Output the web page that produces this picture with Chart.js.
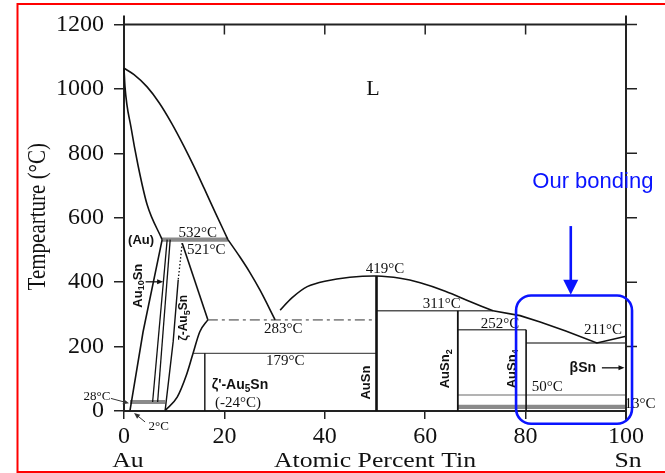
<!DOCTYPE html>
<html><head><meta charset="utf-8">
<script src="https://cdn.jsdelivr.net/npm/chart.js@4.4.1/dist/chart.umd.min.js"></script>
<style>html,body{margin:0;padding:0;background:#fff}canvas{display:block}</style>
</head><body>
<canvas id="c" width="665" height="473"></canvas>
<script>
// Au–Sn binary phase diagram: composition in atomic % Sn, temperature in °C
const xTicks = [0, 20, 40, 60, 80, 100];
const yTicks = [0, 200, 400, 600, 800, 1000, 1200];

// phase boundaries as [at.% Sn, °C]
const liquidusAuUpper = [[0,1064],[2,1044],[4.6,1006],[7,957],[9.5,893],[12,820],[14,757],[16,690],[18.3,612],[20.7,532]];
const liquidusAuLower = [[20.7,532],[23.1,478],[25,432],[27.1,375],[30.1,283]];
const liquidusDome = [[31.1,313],[33.5,352],[36.5,386],[40,403],[45,415],[50.3,419],[55,412],[59,398],[64,372],[68.9,340],[73.5,311]];
const liquidusSn = [[73.5,311],[78.9,296],[82.9,276],[88,248],[94.2,211],[100,232]];
const solidusAu = [[0,1064],[0.2,1006],[1.4,880],[2.8,762],[4.6,641],[7.6,532]];
const solvusAu = [[7.6,532],[3.8,246],[1.2,2]];
const au10SnLow = [[8.6,532],[5.7,28]];
const au10SnHigh = [[9.2,532],[6.7,28]];
const zetaPeak = [11.6,521];
const zetaTop = [zetaPeak,[10.8,407]];
const zetaLeft = [[10.8,407],[9.8,216],[8.2,2]];
const zetaRightUpper = [zetaPeak,[16.7,283]];
const zetaRightLower = [[16.7,283],[15.1,246],[13.7,176],[12.4,110],[10.6,43],[8.2,2]];
const au5SnLine = [[16.1,179],[16.1,0]];
const auSnLine = [[50.3,419],[50.3,0]];
const auSn2Line = [[66.5,311],[66.5,0]];
const auSn4Line = [[80.1,252],[80.1,0]];
const domePeak = [50.3,419];

// horizontal invariant lines
const isoTemps = [532, 283, 179, 311, 252, 211, 50, 13, 28];
const isoFrom  = [7.6, 16.7, 13.8, 50.3, 66.5, 80.1, 66.5, 66.5, 1.2];
const isoTo    = [20.7, 50.3, 50.3, 73.5, 80.1, 100, 100, 100, 8.2];
const isoKind  = ['double','dashdot','gray','gray','gray','gray','light','double','double'];

const SERIF = "'Liberation Serif', 'Times New Roman', serif";
const SANS = "'Liberation Sans', Arial, sans-serif";
const INK = '#111';

function pts(a){ return a.map(([x,y]) => ({x, y})); }
function line(a, o){
  return Object.assign({data: pts(a), showLine: true, pointRadius: 0, fill: false, clip: false,
    borderColor: INK, borderWidth: 1.6, tension: 0}, o || {});
}
const smooth = {tension: 0.4, cubicInterpolationMode: 'monotone'};

const datasets = [
  line(liquidusAuUpper, smooth),
  line(liquidusAuLower, smooth),
  line(liquidusDome, {tension: 0.35}),
  line(liquidusSn),
  line(solidusAu, smooth),
  line(solvusAu),
  line(au10SnLow, {borderWidth: 1.3}),
  line(au10SnHigh, {borderWidth: 1.3}),
  line(zetaTop, {borderDash: [1.5, 2], borderWidth: 1.3}),
  line(zetaLeft, {borderWidth: 1.4}),
  line(zetaRightUpper),
  line(zetaRightLower, smooth),
  line(au5SnLine, {borderWidth: 1.4}),
  line(auSnLine, {borderWidth: 2.6}),
  line(auSn2Line, {borderWidth: 1.8}),
  line(auSn4Line, {borderWidth: 1.6}),
];
isoTemps.forEach((t, i) => {
  const seg = [[isoFrom[i], t], [isoTo[i], t]];
  const k = isoKind[i];
  if (k === 'double') {
    datasets.push(line(seg, {borderColor: '#8a8a8a', borderWidth: 4.2}));
    datasets.push(line(seg, {borderColor: '#ffffff', borderWidth: 1.4}));
  } else if (k === 'dashdot') {
    datasets.push(line(seg, {borderColor: '#8a8a8a', borderWidth: 1.6, borderDash: [10, 4, 3, 4]}));
  } else if (k === 'light') {
    datasets.push(line(seg, {borderColor: '#9a9a9a', borderWidth: 1.5}));
  } else {
    datasets.push(line(seg, {borderColor: '#555', borderWidth: 1.4}));
  }
});

// text helpers
function text(ctx, s, x, y, font, o){
  o = o || {};
  ctx.save();
  ctx.translate(x, y);
  if (o.sx) ctx.scale(o.sx, 1);
  if (o.rot) ctx.rotate(o.rot);
  ctx.font = font; ctx.fillStyle = o.color || INK;
  ctx.textAlign = o.align || 'center'; ctx.textBaseline = o.base || 'middle';
  ctx.fillText(s, 0, 0);
  ctx.restore();
}
function runs(ctx, parts, x, y, size, rot){
  ctx.save();
  ctx.translate(x, y); if (rot) ctx.rotate(rot);
  ctx.textBaseline = 'middle'; ctx.textAlign = 'left'; ctx.fillStyle = INK;
  const f = p => `bold ${p.sub ? Math.round(size * 0.72) : size}px ${SANS}`;
  let total = 0;
  parts.forEach(p => { ctx.font = f(p); total += ctx.measureText(p.t).width; });
  let cx = -total / 2;
  parts.forEach(p => { ctx.font = f(p); ctx.fillText(p.t, cx, p.sub ? size * 0.3 : 0); cx += ctx.measureText(p.t).width; });
  ctx.restore();
}
function arrow(ctx, x1, y1, x2, y2, color, lw, hl, hw){
  const a = Math.atan2(y2 - y1, x2 - x1);
  ctx.save();
  ctx.strokeStyle = color; ctx.fillStyle = color; ctx.lineWidth = lw;
  ctx.beginPath(); ctx.moveTo(x1, y1);
  ctx.lineTo(x2 - Math.cos(a) * hl * 0.8, y2 - Math.sin(a) * hl * 0.8); ctx.stroke();
  ctx.beginPath(); ctx.moveTo(x2, y2);
  ctx.lineTo(x2 - Math.cos(a) * hl + Math.sin(a) * hw / 2, y2 - Math.sin(a) * hl - Math.cos(a) * hw / 2);
  ctx.lineTo(x2 - Math.cos(a) * hl - Math.sin(a) * hw / 2, y2 - Math.sin(a) * hl + Math.cos(a) * hw / 2);
  ctx.closePath(); ctx.fill();
  ctx.restore();
}

// label anchors in data units
const tempLabels = [
  {v: isoTemps[0], at: [14.7, 553]},
  {v: zetaPeak[1], at: [16.4, 498]},
  {v: isoTemps[1], at: [31.7, 255]},
  {v: isoTemps[2], at: [32.1, 155]},
  {v: domePeak[1], at: [52, 440]},
  {v: isoTemps[3], at: [63.3, 331]},
  {v: isoTemps[4], at: [74.9, 270]},
  {v: isoTemps[5], at: [95.4, 252]},
  {v: isoTemps[6], at: [84.3, 73]},
  {v: isoTemps[7], at: [102.8, 21]},
  {v: isoTemps[8], at: [-5.4, 46]},
  {v: solvusAu[2][1], at: [6.9, -49]},
];

const deco = {
  id: 'deco',
  beforeDraw(chart){
    const c = chart.ctx;
    c.save();
    c.fillStyle = '#fff'; c.fillRect(0, 0, chart.width, chart.height);
    c.strokeStyle = '#ff0000'; c.lineWidth = 2;
    c.strokeRect(17.5, 4, 660, 468);
    c.restore();
  },
  afterDraw(chart){
    const c = chart.ctx, xs = chart.scales.x, ys = chart.scales.y, a = chart.chartArea;
    const X = v => xs.getPixelForValue(v), Y = v => ys.getPixelForValue(v);

    // top and right frame with inward / outward ticks
    c.save();
    c.strokeStyle = '#222'; c.lineWidth = 2;
    c.beginPath();
    c.moveTo(a.left, a.top); c.lineTo(a.right, a.top);
    c.moveTo(a.right, a.top - 9); c.lineTo(a.right, a.bottom + 10);
    c.moveTo(a.left, a.top - 9); c.lineTo(a.left, a.top);
    c.stroke();
    c.lineWidth = 1.5;
    c.beginPath();
    xTicks.slice(1, -1).forEach(v => { c.moveTo(X(v), a.top); c.lineTo(X(v), a.top + 10); });
    yTicks.slice(1).forEach(v => { c.moveTo(a.right, Y(v)); c.lineTo(a.right + 11, Y(v)); });
    c.stroke();
    c.restore();

    // axis titles and end-member names
    text(c, 'Atomic Percent Tin', (a.left + a.right) / 2, 467, `22px ${SERIF}`, {base: 'alphabetic', sx: 1.17});
    text(c, 'Au', X(0) + 4, 467, `22px ${SERIF}`, {base: 'alphabetic', sx: 1.17});
    text(c, 'Sn', X(100) + 2, 467, `22px ${SERIF}`, {base: 'alphabetic', sx: 1.17});
    text(c, 'Tempearture (°C)', 45, (a.top + a.bottom) / 2 - 1, `21px ${SERIF}`, {base: 'alphabetic', rot: -Math.PI / 2, sx: 1.15});

    // liquid field
    text(c, 'L', X(49.6), Y(1000), `22px ${SERIF}`);

    // temperature labels
    tempLabels.forEach(l => {
      const sz = (l.v === 28 || l.v === 2) ? 13 : 15;
      text(c, `${l.v}°C`, X(l.at[0]), Y(l.at[1]), `${sz}px ${SERIF}`);
    });
    arrow(c, X(-2.6), Y(39), X(1.0), Y(24), '#333', 1, 6, 5);
    arrow(c, X(4.2), Y(-34), X(2.0), Y(-6), '#333', 1, 6, 5);

    // phase names
    text(c, '(Au)', X(3.4), Y(529), `bold 13px ${SANS}`);
    runs(c, [{t: 'Au'}, {t: '10', sub: 1}, {t: 'Sn'}], X(2.8), Y(389), 13, -Math.PI / 2);
    arrow(c, X(4.3), Y(401), X(7.8), Y(401), INK, 1.3, 6, 5);
    runs(c, [{t: 'ζ-Au'}, {t: '5', sub: 1}, {t: 'Sn'}], X(11.9), Y(289), 12, -Math.PI / 2);
    runs(c, [{t: 'ζ\'-Au'}, {t: '5', sub: 1}, {t: 'Sn'}], X(23.1), Y(79), 14, 0);
    text(c, '(-24°C)', X(22.7), Y(24), `15px ${SERIF}`);
    runs(c, [{t: 'AuSn'}], X(48.2), Y(88), 13, -Math.PI / 2);
    runs(c, [{t: 'AuSn'}, {t: '2', sub: 1}], X(64.1), Y(131), 13, -Math.PI / 2);
    runs(c, [{t: 'AuSn'}, {t: '4', sub: 1}], X(77.3), Y(131), 13, -Math.PI / 2);
    text(c, 'βSn', X(91.4), Y(134), `bold 14px ${SANS}`);
    arrow(c, X(95.2), Y(134), X(99.7), Y(134), INK, 1.3, 6, 5);

    // highlighted processing window
    const bx1 = X(78.1), bx2 = X(101.2), by1 = Y(358.5), by2 = Y(-39.5), r = 15;
    c.save();
    c.strokeStyle = '#0a14ff'; c.lineWidth = 2.6;
    c.beginPath();
    c.moveTo(bx1 + r, by1); c.lineTo(bx2 - r, by1); c.arcTo(bx2, by1, bx2, by1 + r, r);
    c.lineTo(bx2, by2 - r); c.arcTo(bx2, by2, bx2 - r, by2, r);
    c.lineTo(bx1 + r, by2); c.arcTo(bx1, by2, bx1, by2 - r, r);
    c.lineTo(bx1, by1 + r); c.arcTo(bx1, by1, bx1 + r, by1, r);
    c.closePath(); c.stroke();
    c.restore();
    arrow(c, X(89.0), Y(574), X(89.0), Y(361), '#0a14ff', 2.6, 15, 15);
    text(c, 'Our bonding', X(93.4), Y(711), `22px ${SANS}`, {color: '#0a14ff'});
  }
};

new Chart(document.getElementById('c').getContext('2d'), {
  type: 'scatter',
  data: {datasets},
  options: {
    responsive: false, animation: false, devicePixelRatio: 1,
    layout: {padding: {left: 0, right: 39, top: 16, bottom: 0}},
    plugins: {legend: {display: false}, tooltip: {enabled: false}},
    scales: {
      x: {
        type: 'linear', min: 0, max: 100,
        afterBuildTicks: s => { s.ticks = xTicks.map(v => ({value: v})); },
        afterFit: s => { s.height = 62; },
        ticks: {font: {family: SERIF, size: 24}, color: INK, padding: 3, maxRotation: 0, autoSkip: false, callback: v => String(v)},
        grid: {drawOnChartArea: false, tickLength: 8, color: '#222', lineWidth: 1.5},
        border: {color: '#222', width: 2}
      },
      y: {
        type: 'linear', min: 0, max: 1200,
        afterBuildTicks: s => { s.ticks = yTicks.map(v => ({value: v})); },
        afterFit: s => { s.width = 124; },
        ticks: {font: {family: SERIF, size: 24}, color: INK, padding: 10, autoSkip: false, callback: v => String(v)},
        grid: {drawOnChartArea: false, tickLength: 10, color: '#222', lineWidth: 1.5},
        border: {color: '#222', width: 2}
      }
    }
  },
  plugins: [deco]
});
</script>
</body></html>
